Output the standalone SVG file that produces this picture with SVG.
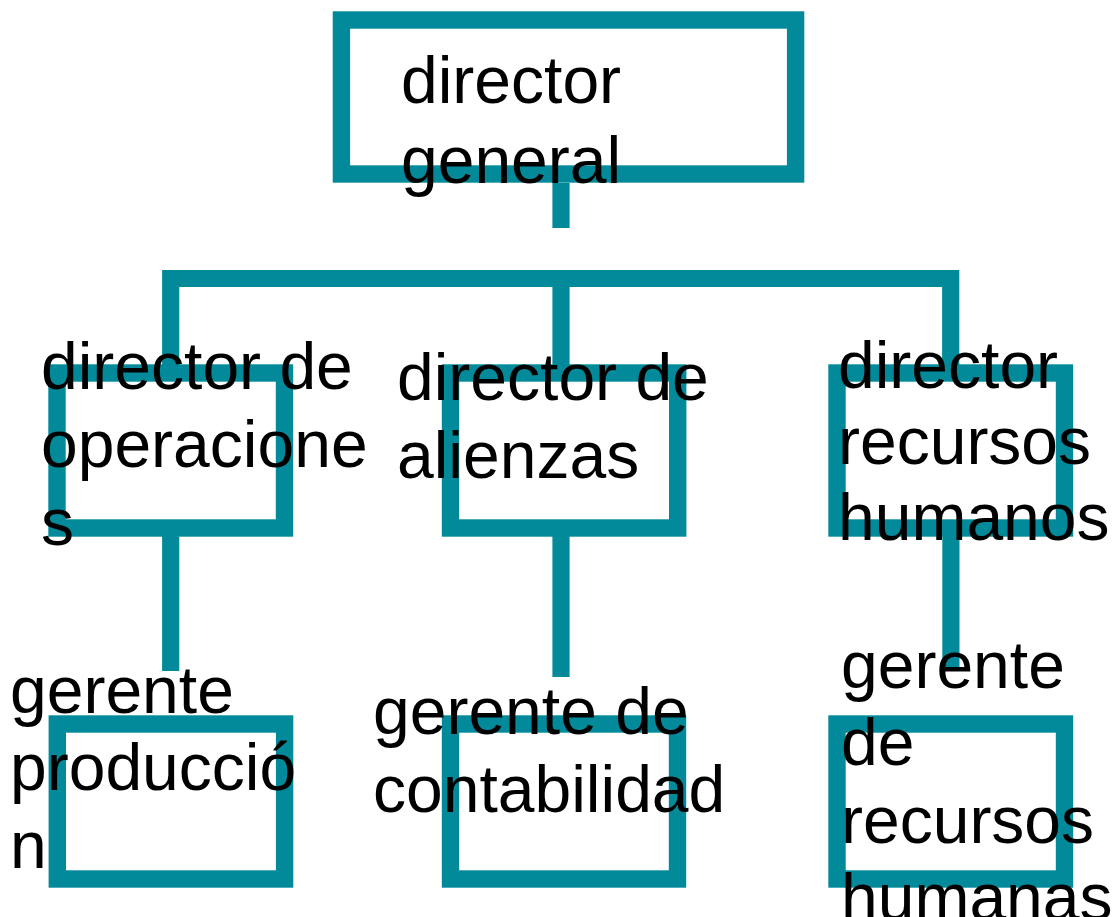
<svg xmlns="http://www.w3.org/2000/svg" width="1117" height="917" viewBox="0 0 1117 917">
<style>
.box{fill:none;stroke:#028A9A;stroke-width:17.4;stroke-linejoin:miter}
.con{fill:none;stroke:#028A9A;stroke-width:17.2;stroke-linecap:butt;stroke-linejoin:miter}
.t{font-family:"Liberation Sans",Arial,sans-serif;font-size:66px;fill:#000}
</style>
<rect width="1117" height="917" fill="#fff"/>
<g id="connectors">
<path class="con" d="M561 183 V228"/>
<path class="con" d="M170.7 366 V278.5 H950.7 V366"/>
<path class="con" d="M561 278.5 V366"/>
<path class="con" d="M170.7 536 V671"/>
<path class="con" d="M561 536 V677"/>
<path class="con" d="M950.9 536 V668"/>
</g>
<g id="n-director-general">
<rect class="box" x="341.4" y="20" width="454.2" height="154"/>
<text class="t" x="401" y="103">director</text>
<text class="t" x="401" y="183">general</text>
</g>
<g id="n-director-operaciones">
<rect class="box" x="57" y="373" width="227.5" height="155"/>
<text class="t" x="41" y="389">director de</text>
<text class="t" x="41" y="467">operacione</text>
<text class="t" x="41" y="545">s</text>
</g>
<g id="n-director-alienzas">
<rect class="box" x="450.5" y="373" width="227.2" height="155"/>
<text class="t" x="397" y="400">director de</text>
<text class="t" x="397" y="478">alienzas</text>
</g>
<g id="n-director-rrhh">
<rect class="box" x="837" y="373" width="227.5" height="155"/>
<text class="t" x="838" y="388">director</text>
<text class="t" x="838" y="464">recursos</text>
<text class="t" x="838" y="540">humanos</text>
</g>
<g id="n-gerente-produccion">
<rect class="box" x="57.3" y="724" width="227.3" height="155"/>
<text class="t" x="10" y="713">gerente</text>
<text class="t" x="10" y="790">producció</text>
<text class="t" x="10" y="868">n</text>
</g>
<g id="n-gerente-contabilidad">
<rect class="box" x="450.5" y="724" width="227" height="155"/>
<text class="t" x="373" y="734">gerente de</text>
<text class="t" x="373" y="812">contabilidad</text>
</g>
<g id="n-gerente-rrhh">
<rect class="box" x="837" y="724" width="227.5" height="155"/>
<text class="t" x="841" y="688">gerente</text>
<text class="t" x="841" y="765">de</text>
<text class="t" x="841" y="843">recursos</text>
<text class="t" x="841" y="920">humanas</text>
</g>
</svg>
